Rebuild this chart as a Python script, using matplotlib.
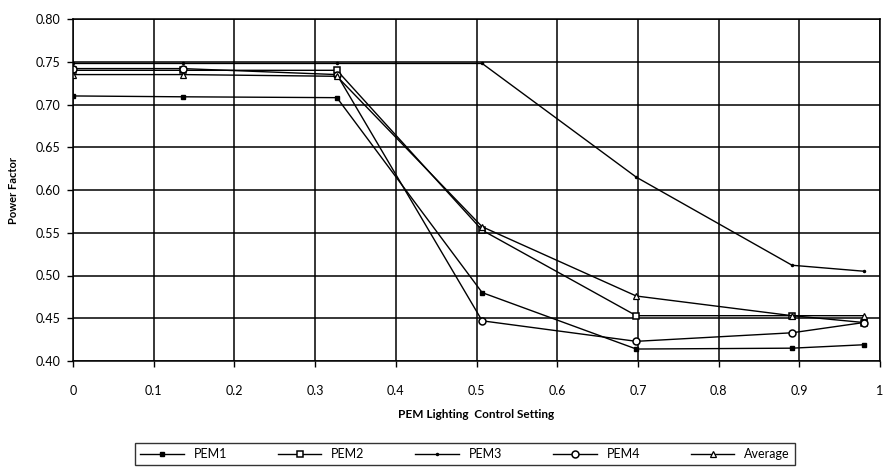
import matplotlib
matplotlib.use("Agg")
import matplotlib.pyplot as plt
import numpy as np

# lighting control setting for each measurement
setting = [0, 0.136, 0.327, 0.507, 0.698, 0.891, 0.98]

pem1 = [0.710, 0.709, 0.708, 0.480, 0.414, 0.415, 0.419]
pem2 = [0.740, 0.740, 0.740, 0.553, 0.453, 0.453, 0.445]
pem3 = [0.748, 0.748, 0.748, 0.748, 0.615, 0.512, 0.505]
pem4 = [0.742, 0.742, 0.735, 0.447, 0.423, 0.433, 0.445]
average = [0.735, 0.735, 0.733, 0.557, 0.476, 0.453, 0.453]

y_ticks = [0.40, 0.45, 0.50, 0.55, 0.60, 0.65, 0.70, 0.75, 0.80]
x_ticks = [0, 0.1, 0.2, 0.3, 0.4, 0.5, 0.6, 0.7, 0.8, 0.9, 1]
x_tick_labels = ["0", "0.1", "0.2", "0.3", "0.4", "0.5", "0.6", "0.7", "0.8", "0.9", "1"]

plt.rcParams["font.family"] = ["Lato", "DejaVu Sans"]

fig = plt.figure(figsize=(8.84, 4.70), dpi=100)
ax = fig.add_axes([73 / 884, 1 - 361 / 470, (880 - 73) / 884, (361 - 19) / 470])

ax.plot(setting, pem1, color="black", lw=1.0, marker="s", ms=3,
        mfc="black", mec="black", label="PEM1")
ax.plot(setting, pem2, color="black", lw=1.0, marker="s", ms=5,
        mfc="white", mec="black", mew=1.1, label="PEM2")
ax.plot(setting, pem3, color="black", lw=1.0, marker=".", ms=3,
        mfc="black", mec="black", label="PEM3")
ax.plot(setting, pem4, color="black", lw=1.0, marker="o", ms=5,
        mfc="white", mec="black", mew=1.1, label="PEM4")
ax.plot(setting, average, color="black", lw=1.0, marker="^", ms=4,
        mfc="white", mec="black", mew=0.9, label="Average")

ax.set_xlim(0, 1)
ax.set_ylim(0.40, 0.80)
ax.set_xticks(x_ticks)
ax.set_xticklabels(x_tick_labels)
ax.set_yticks(y_ticks)
ax.set_yticklabels(["%.2f" % v for v in y_ticks])
ax.grid(True, color="black", lw=1.1)
ax.set_axisbelow(True)
for s in ax.spines.values():
    s.set_color("black")
    s.set_linewidth(1.1)
ax.tick_params(axis="both", colors="black", labelsize=9, length=4, width=1)
ax.tick_params(axis="x", pad=13)
ax.tick_params(axis="y", pad=5)

ax.set_xlabel("PEM Lighting  Control Setting", fontsize=8.5, fontweight="bold", labelpad=9)
ax.set_ylabel("Power Factor", fontsize=8, fontweight="bold", labelpad=12)

leg = fig.legend(loc="lower left", bbox_to_anchor=(135 / 884, 1 - 465 / 470, (795 - 135) / 884, 37 / 470),
                 ncol=5, mode="expand", fontsize=9, frameon=True, fancybox=False,
                 edgecolor="black", handlelength=3.5, borderaxespad=0)
leg.get_frame().set_linewidth(1.0)

fig.savefig("out.png", dpi=100, facecolor="white")
